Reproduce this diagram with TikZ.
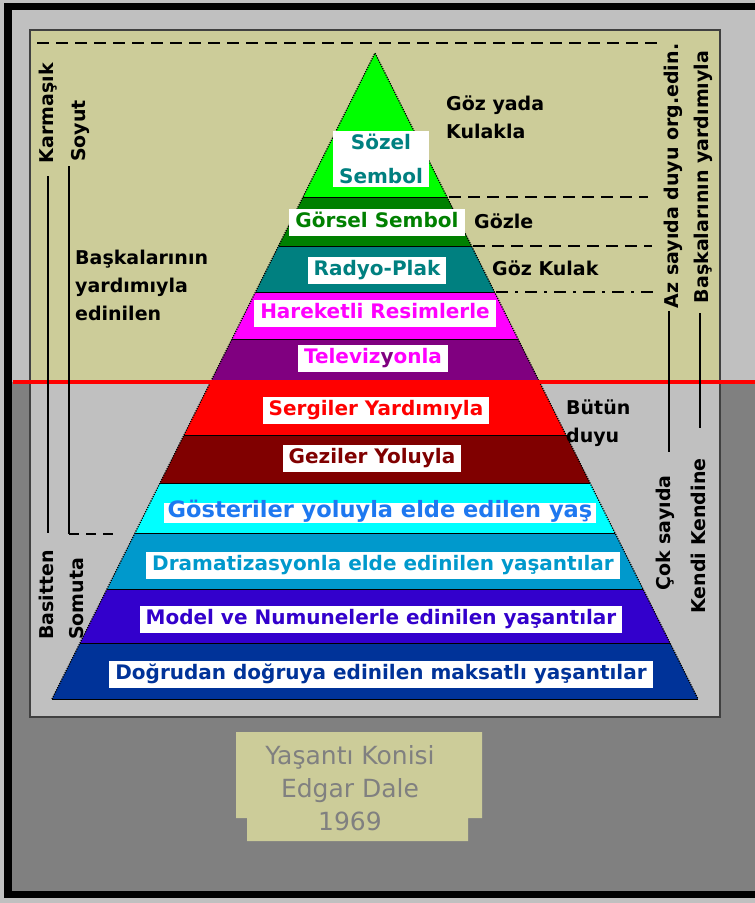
\documentclass[tikz,border=0pt]{standalone}
\usepackage{fontspec}
\setmainfont{DejaVu Sans}
\usetikzlibrary{positioning}

\definecolor{khaki}{HTML}{CCCC99}
\definecolor{panelgray}{HTML}{C0C0C0}
\definecolor{outergray}{HTML}{808080}
\definecolor{edge}{HTML}{404040}
\definecolor{sozelband}{HTML}{00FF00}
\definecolor{gorselband}{HTML}{008000}
\definecolor{radyoband}{HTML}{008080}
\definecolor{hareketband}{HTML}{FF00FF}
\definecolor{tvband}{HTML}{800080}
\definecolor{sergiband}{HTML}{FF0000}
\definecolor{geziband}{HTML}{800000}
\definecolor{gosteriband}{HTML}{00FFFF}
\definecolor{dramaband}{HTML}{0099CC}
\definecolor{modelband}{HTML}{3300CC}
\definecolor{dogruband}{HTML}{003399}
\definecolor{gosteritext}{HTML}{1E78F0}

\begin{document}
\begin{tikzpicture}[x=1pt,y=-1pt,
        lblbase/.style={fill=white,inner xsep=6pt,inner ysep=3.5pt,
            font=\fontsize{20}{24}\selectfont\bfseries},
        lbl/.style={lblbase,text height=15pt,text depth=5pt},
        side/.style={inner sep=0pt,align=left,font=\fontsize{19}{28}\selectfont\bfseries},
        upright/.style={side,rotate=90},
        rule/.style={draw=black,line width=1.2pt},
        dsh/.style={rule,dash pattern=on 12pt off 7pt},
        dshdot/.style={rule,dash pattern=on 12pt off 7pt on 3pt off 7pt}]
    \useasboundingbox (0,0) rectangle (755,903);
    % frame and panel
    \fill[panelgray] (0,0) rectangle (755,903);
    \fill[outergray] (12,382) rectangle (755,891);
    \fill[black] (4,3) rectangle (755,10);
    \fill[black] (4,3) rectangle (12,898);
    \fill[black] (4,891) rectangle (755,898);
    \fill[khaki] (30,30) rectangle (720,382);
    \fill[panelgray] (30,382) rectangle (720,717);
    \draw[edge,line width=1.5pt] (30,30) rectangle (720,717);
    \draw[dsh] (37,43) -- (657,43);

    % pyramid
    \coordinate (apex) at (375,53);
    \coordinate (baseL) at (52,699);
    \coordinate (baseR) at (698,699);
    \foreach \ya/\yb/\col in {53/197/sozelband,197/246/gorselband,246/292/radyoband,
            292/339/hareketband,339/382/tvband,382/435/sergiband,435/483/geziband,
            483/533/gosteriband,533/589/dramaband,589/643/modelband,643/699/dogruband}{
        \fill[\col] ({375-(\ya-53)/2},\ya) -- ({375+(\ya-53)/2},\ya)
            -- ({375+(\yb-53)/2},\yb) -- ({375-(\yb-53)/2},\yb) -- cycle;
    }
    \foreach \yb in {197,246,292,339,435,483,533,589,643,699}{
        \draw[black,line width=1pt] ({375-(\yb-53)/2},\yb) -- ({375+(\yb-53)/2},\yb);
    }
    \draw[line width=1.2pt,dash pattern=on 1.2pt off 1.2pt] (baseL) -- (apex) -- (baseR);

    % senses
    \draw[dsh] (449,197) -- (648,197);
    \draw[dsh] (473,246) -- (652,246);
    \draw[dshdot] (496,292) -- (660,292);
    \draw[red,line width=4pt] (13,382) -- (755,382);

    % band labels
    \node[lblbase,align=center,text=radyoband,font=\fontsize{20}{34}\selectfont\bfseries] (sozel) at (381,159) {Sözel\\Sembol};
    \node[lbl,text=gorselband] (gorsel) at (377,222) {Görsel Sembol};
    \node[lbl,text=radyoband] (radyo) at (377,270) {Radyo-Plak};
    \node[lbl,text=hareketband] (hareket) at (375,313) {Hareketli Resimlerle};
    \node[lbl,text=hareketband] (tv) at (373,358) {Televiz\textcolor{tvband}{y}onla};
    \node[lbl,text=sergiband] (sergi) at (376,410) {Sergiler Yardımıyla};
    \node[lbl,text=geziband] (gezi) at (372,458) {Geziler Yoluyla};
    \node[lbl,text=gosteritext,inner xsep=4pt,inner ysep=0.5pt,text height=14pt,text depth=4.5pt,
        font=\fontsize{22.5}{24}\selectfont\bfseries] (gosteri) at (380,513) {Gösteriler yoluyla elde edilen yaş};
    \node[lbl,text=dramaband] (drama) at (383,565) {Dramatizasyonla elde edinilen yaşantılar};
    \node[lbl,text=modelband] (model) at (381,619) {Model ve Numunelerle edinilen yaşantılar};
    \node[lbl,text=dogruband] (dogru) at (381,674) {Doğrudan doğruya edinilen maksatlı yaşantılar};

    % side labels
    \node[side,anchor=west] (gozyada) at (446,117) {Göz yada\\Kulakla};
    \node[side,anchor=west] (gozle) at (474,221) {Gözle};
    \node[side,anchor=west] (gozkulak) at (492,268) {Göz Kulak};
    \node[side,anchor=west] (butun) at (566,423) {Bütün\\duyu};
    \node[side,anchor=west] (baskalari) at (75,285) {Başkalarının\\yardımıyla\\edinilen};

    \node[upright] (karmasik) at (48,113) {Karmaşık};
    \node[upright] (soyut) at (80,131) {Soyut};
    \node[upright] (basit) at (46,595) {Basitten};
    \node[upright] (somut) at (77,599) {Somuta};
    \node[upright] (azsayi) at (673,176) {Az sayıda duyu org.edin.};
    \node[upright] (coksayi) at (665,533) {Çok sayıda};
    \node[upright] (baskayard) at (703,177) {Başkalarının yardımıyla};
    \node[upright] (kendi) at (698,536) {Kendi Kendine};

    \draw[rule,shorten <=13pt,shorten >=17pt] (karmasik.west) -- (karmasik.west |- basit.east);
    \coordinate (soyutfoot) at (69,534);
    \draw[rule,shorten <=4pt] (soyut.north west -| soyutfoot) -- (soyutfoot);
    \draw[dsh,dash pattern=on 10pt off 7pt] (soyutfoot) -- ++(48,0);
    \draw[rule,shorten <=3pt,shorten >=23pt] ([xshift=-4pt]azsayi.west) -- ([xshift=-4pt]azsayi.west |- coksayi.east);
    \draw[rule,shorten <=10pt,shorten >=30pt] ([xshift=-3pt]baskayard.west) -- ([xshift=-3pt]baskayard.west |- kendi.east);

    % caption
    \fill[khaki] (236,732) -- (482,732) -- (482,818) -- (468,818) -- (468,841)
        -- (247,841) -- (247,818) -- (236,818) -- cycle;
    \node[font=\fontsize{25}{33}\selectfont,text=outergray,align=center] (dale) at (350,788) {Yaşantı Konisi\\Edgar Dale\\1969};
\end{tikzpicture}
\end{document}
